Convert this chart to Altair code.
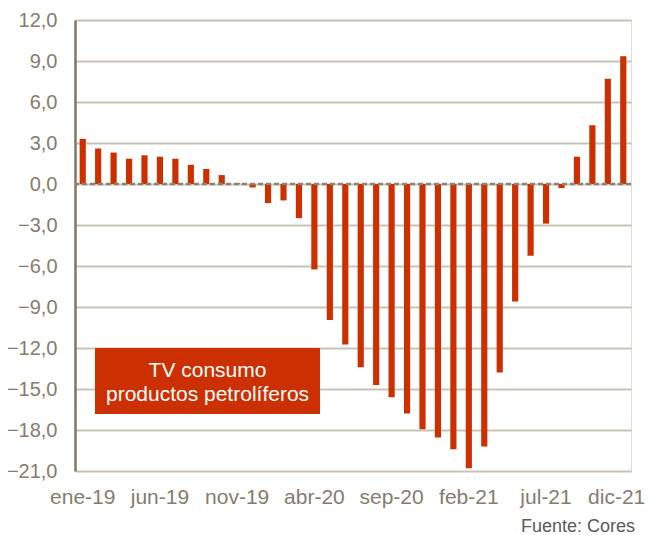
import altair as alt
import pandas as pd

months = ["ene","feb","mar","abr","may","jun","jul","ago","sep","oct","nov","dic"]
categories = [f"{m}-{y}" for y in ["19", "20", "21"] for m in months]
values = [3.3, 2.6, 2.3, 1.85, 2.1, 2.0, 1.85, 1.4, 1.1, 0.65, 0.05, -0.25,
          -1.4, -1.2, -2.5, -6.25, -9.95, -11.75, -13.4, -14.7, -15.6, -16.8, -17.95, -18.55,
          -19.4, -20.8, -19.2, -13.8, -8.6, -5.25, -2.9, -0.3, 2.0, 4.3, 7.7, 9.35]
tick_labels = ["ene-19", "jun-19", "nov-19", "abr-20", "sep-20", "feb-21", "jul-21", "dic-21"]
y_ticks = [12, 9, 6, 3, 0, -3, -6, -9, -12, -15, -18, -21]

df = pd.DataFrame({"mes": categories, "tv": values})

RED = "#CC2F00"
GRAY_TXT = "#857D6C"
GRID = "#C9C3B6"
FONT = "Liberation Sans"

W, H = 556, 451

x = alt.X("mes:N", sort=categories,
          scale=alt.Scale(paddingInner=0.6, paddingOuter=0.3),
          axis=alt.Axis(values=tick_labels, labelAngle=0, title=None, ticks=False,
                        domain=False, labelFont=FONT, labelFontSize=21,
                        labelColor=GRAY_TXT, labelPadding=15, grid=False,
                        labelAlign={"condition": {"test": "datum.value == 'dic-21'", "value": "right"},
                                    "value": "center"},
                        labelOffset={"condition": {"test": "datum.value == 'dic-21'", "value": 22},
                                     "value": 0},
                        labelBound=False, labelOverlap=False))
y = alt.Y("tv:Q", scale=alt.Scale(domain=[-21, 12], nice=False),
          axis=alt.Axis(values=y_ticks, format=".1f", title=None, ticks=False,
                        domain=True, domainColor="#7F7766", domainWidth=2.5,
                        labelFont=FONT, labelFontSize=20, labelColor=GRAY_TXT,
                        labelPadding=18, grid=True, gridColor=GRID, gridWidth=2))

bars = alt.Chart(df).mark_bar(color=RED).encode(x=x, y=y)

zero = alt.Chart(pd.DataFrame({"z": [0]})).mark_rule(
    color="#8A8470", strokeDash=[5, 3], strokeWidth=2.5
).encode(y=alt.Y("z:Q", scale=alt.Scale(domain=[-21, 12], nice=False)))

box = alt.Chart(pd.DataFrame({"a": [1]})).mark_rect(color=RED).encode(
    x=alt.value(20), x2=alt.value(245), y=alt.value(328), y2=alt.value(394)
)

box_text = alt.Chart(pd.DataFrame({"a": [1]})).mark_text(
    color="white", font=FONT, fontSize=21, align="center", baseline="middle",
    lineHeight=24
).encode(x=alt.value(132.5), y=alt.value(351),
         text=alt.value(["TV consumo", "productos petrolíferos"]))

source = alt.Chart(pd.DataFrame({"a": [1]})).mark_text(
    color="#595959", font=FONT, fontSize=18, align="right", baseline="middle"
).encode(x=alt.value(560), y=alt.value(507), text=alt.value("Fuente: Cores"))

chart = alt.layer(bars, zero, box, box_text, source).properties(
    width=W, height=H,
    autosize=alt.AutoSizeParams(type="none"),
    padding={"left": 67, "top": 12, "right": 14, "bottom": 64},
).configure_view(stroke=None).configure(
    locale={"number": {"decimal": ",", "thousands": ".", "grouping": [3], "currency": ["", " €"]}}
)

chart.save("out.html", embed_options={"renderer": "svg", "actions": False})
